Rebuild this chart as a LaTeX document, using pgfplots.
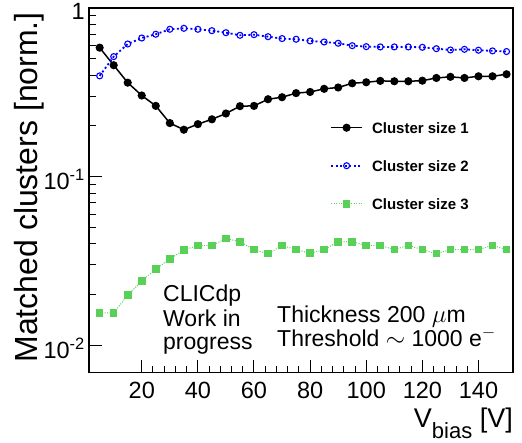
\documentclass[border=0pt]{standalone}
\usepackage{fontspec}
\setmainfont{Liberation Sans}
\usepackage{pgfplots}
\pgfplotsset{compat=1.18}
\definecolor{cgreen}{RGB}{89,209,89}
\definecolor{cblue}{RGB}{0,0,255}
\begin{document}
\begin{tikzpicture}
\useasboundingbox (0pt,0pt) rectangle (522pt,443pt);
\begin{axis}[
  at={(89pt,70.3pt)}, anchor=south west,
  scale only axis, width=424pt, height=364.7pt,
  xmin=1.2, xmax=152.3,
  ymode=log, ymin=0.0069, ymax=1,
  axis line style={line width=1.2pt},
  tick align=inside, tick pos=left,
  every tick/.style={black, line width=1pt},
  major tick length=13pt, minor tick length=7pt,
  xtick={20,40,...,140}, minor x tick num=4,
  ytick={0.01,0.1,1}, yticklabels={10\textsuperscript{-2},10\textsuperscript{-1},1},
  /pgf/number format/assume math mode=true,
  tick label style={font=\fontsize{23.5}{23.5}\selectfont},
  yticklabel style={inner sep=0pt, xshift=-4pt, yshift=-3pt},
  xticklabel style={inner sep=0pt, yshift=-9pt},
  xlabel={V{\fontsize{22}{22}\selectfont\raisebox{-11pt}{bias}} [V]},
  xlabel style={font=\fontsize{27}{27}\selectfont, at={(rel axis cs:1,-0.149)}, anchor=base east, inner sep=0pt},
  ylabel={Matched clusters [norm.]},
  ylabel style={font=\fontsize{32}{32}\selectfont, at={(rel axis cs:-0.1226,0.989)}, anchor=base east, inner sep=0pt, rotate=0},
  legend cell align=center,
  legend style={draw=none, fill=none, inner sep=0pt, at={(rel axis cs:0.5684,0.6874)}, anchor=north west,
    font=\fontsize{15}{15}\selectfont\bfseries,
    nodes={inner sep=0pt, text height=11pt, text depth=0pt},
    row sep=27pt, /tikz/column 1/.style={column sep=9pt}},
  legend image code/.code={\draw[mark repeat=2,mark phase=2,#1] plot coordinates {(0pt,0pt) (15.5pt,0pt) (31pt,0pt)};},
]
\addplot[black, line width=1.5pt, mark=*, mark size=3.3pt] coordinates {
(5,0.582) (10,0.458) (15,0.361) (20,0.303) (25,0.263) (30,0.208) (35,0.190) (40,0.205) (45,0.219) (50,0.237)
(55,0.262) (60,0.263) (65,0.288) (70,0.296) (75,0.313) (80,0.318) (85,0.332) (90,0.338) (95,0.358) (100,0.363)
(105,0.370) (110,0.368) (115,0.368) (120,0.371) (125,0.385) (130,0.391) (135,0.385) (140,0.394) (145,0.394) (150,0.405)};
\addlegendentry{Cluster size 1}
\addplot[cblue, line width=1.8pt, dash pattern=on 2pt off 2.5pt, mark=o, mark size=3pt, mark options={solid, line width=1.1pt}] coordinates {
(5,0.396) (10,0.515) (15,0.612) (20,0.664) (25,0.699) (30,0.748) (35,0.758) (40,0.748) (45,0.734) (50,0.714)
(55,0.689) (60,0.695) (65,0.676) (70,0.659) (75,0.653) (80,0.638) (85,0.629) (90,0.618) (95,0.598) (100,0.590)
(105,0.588) (110,0.588) (115,0.588) (120,0.585) (125,0.574) (130,0.564) (135,0.569) (140,0.562) (145,0.557) (150,0.552)};
\addlegendentry{Cluster size 2}
\addplot[cgreen, line width=1pt, dash pattern=on 1pt off 1.5pt, mark=square*, mark size=3.3pt, mark options={solid, fill=cgreen}] coordinates {
(5,0.0156) (10,0.0156) (15,0.0199) (20,0.0241) (25,0.0284) (30,0.0326) (35,0.0368) (40,0.0391) (45,0.0391) (50,0.0431)
(55,0.0412) (60,0.0370) (65,0.0350) (70,0.0391) (75,0.0370) (80,0.0352) (85,0.0370) (90,0.0412) (95,0.0412) (100,0.0392)
(105,0.0392) (110,0.0370) (115,0.0392) (120,0.0370) (125,0.0350) (130,0.0370) (135,0.0370) (140,0.0370) (145,0.0392) (150,0.0370)};
\addlegendentry{Cluster size 3}
\end{axis}
\begin{scope}[every node/.style={font=\fontsize{23}{23}\selectfont, inner sep=0pt, anchor=base west}]
\node at (163pt,141pt) {CLICdp};
\node at (163pt,116pt) {Work in};
\node at (163pt,93pt) {progress};
\node at (277pt,120pt) {Thickness 200 $\mu\mathrm{m}$};
\node at (277pt,96pt) {Threshold $\sim$ 1000 e$^{-}$};
\end{scope}
\end{tikzpicture}
\end{document}
